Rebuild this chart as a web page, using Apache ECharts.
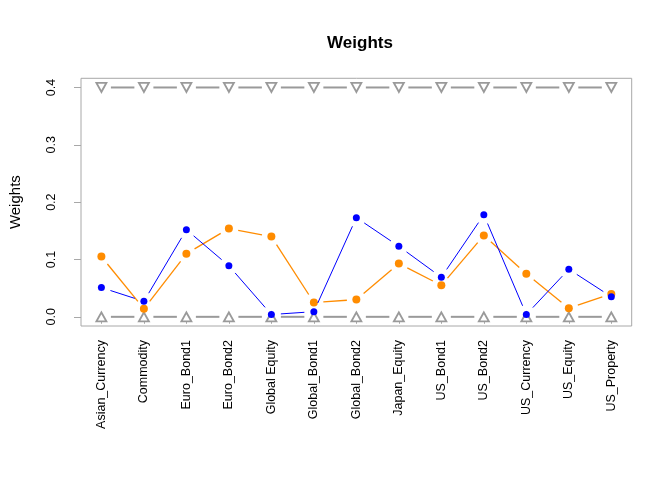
<!DOCTYPE html>
<html>
<head>
<meta charset="utf-8">
<script src="https://cdn.jsdelivr.net/npm/echarts@6/dist/echarts.min.js"></script>
<style>html,body{margin:0;padding:0;background:#fff;}#c{width:672px;height:480px;}</style>
</head>
<body>
<div id="c"></div>
<script>
var categories = ["Asian_Currency","Commodity","Euro_Bond1","Euro_Bond2","Global Equity","Global_Bond1","Global_Bond2","Japan_Equity","US_Bond1","US_Bond2","US_Currency","US_Equity","US_Property"];
var blueWeights = [0.051,0.027,0.152,0.089,0.004,0.009,0.173,0.123,0.069,0.178,0.004,0.083,0.035];
var orangeWeights = [0.105,0.014,0.110,0.154,0.140,0.025,0.030,0.093,0.055,0.142,0.075,0.015,0.040];
var upperBound = [0.4,0.4,0.4,0.4,0.4,0.4,0.4,0.4,0.4,0.4,0.4,0.4,0.4];
var lowerBound = [0,0,0,0,0,0,0,0,0,0,0,0,0];
var yTicks = [0, 0.1, 0.2, 0.3, 0.4];
var xTicks = categories.map(function(_, i){ return i + 1; });

var FONT = 'Liberation Sans';
var GAP = 9.5;

function pts(vals){ return vals.map(function(v, i){ return [i + 1, v]; }); }
function segs(vals){
  var out = [];
  for (var i = 0; i < vals.length - 1; i++) out.push([i + 1, vals[i], vals[i + 1]]);
  return out;
}
function gapLine(color, width){
  return function(params, api){
    var a = api.coord([api.value(0), api.value(1)]);
    var b = api.coord([api.value(0) + 1, api.value(2)]);
    var dx = b[0] - a[0], dy = b[1] - a[1];
    var L = Math.sqrt(dx * dx + dy * dy);
    if (L <= 2 * GAP) return null;
    var ux = dx / L, uy = dy / L;
    return {
      type: 'line',
      shape: {x1: a[0] + ux * GAP, y1: a[1] + uy * GAP, x2: b[0] - ux * GAP, y2: b[1] - uy * GAP},
      style: {stroke: color, lineWidth: width}
    };
  };
}
function lineSeries(vals, color, width, z){
  return {type: 'custom', data: segs(vals), renderItem: gapLine(color, width), z: z, silent: true,
          encode: {x: 0, y: [1, 2]}};
}
function pointSeries(vals, symbol, size, style, z, rot){
  return {type: 'scatter', data: pts(vals), symbol: symbol, symbolSize: size, symbolRotate: rot || 0,
          itemStyle: Object.assign({opacity: 1}, style), z: z, silent: true};
}

var grey = '#9a9a9a';
var chart = echarts.init(document.getElementById('c'));
chart.setOption({
  animation: false,
  backgroundColor: '#fff',
  title: {
    text: 'Weights', left: 355, top: 30, textAlign: 'center',
    textStyle: {fontFamily: FONT, fontSize: 17, fontWeight: 'bold', color: '#000'}
  },
  grid: {left: 78.3, right: 40.3, top: 78.3, bottom: 154, show: true, borderColor: '#a8a8a8', borderWidth: 1, backgroundColor: 'transparent'},
  xAxis: {
    type: 'value', min: 0.52, max: 13.48,
    axisLine: {show: false},
    splitLine: {show: false},
    axisTick: {show: true, customValues: xTicks, length: 7, lineStyle: {color: '#a8a8a8'}},
    axisLabel: {
      customValues: xTicks, rotate: 90, margin: 14,
      fontFamily: FONT, fontSize: 12.5, color: '#000',
      formatter: function(v){ return categories[Math.round(v) - 1] || ''; }
    }
  },
  yAxis: {
    type: 'value', min: -0.016, max: 0.416,
    name: 'Weights', nameLocation: 'middle', nameGap: 58, nameRotate: 90,
    nameTextStyle: {fontFamily: FONT, fontSize: 15, color: '#000'},
    axisLine: {show: false},
    splitLine: {show: false},
    axisTick: {show: true, customValues: yTicks, length: 7, lineStyle: {color: '#a8a8a8'}},
    axisLabel: {
      customValues: yTicks, rotate: 90, margin: 23,
      fontFamily: FONT, fontSize: 12.5, color: '#000',
      formatter: function(v){ return v.toFixed(1); }
    }
  },
  series: [
    lineSeries(upperBound, grey, 2, 1),
    pointSeries(upperBound, 'triangle', [10, 9], {color: '#fff', borderColor: grey, borderWidth: 1.8}, 2, 180),
    lineSeries(lowerBound, grey, 2, 1),
    pointSeries(lowerBound, 'triangle', [10, 9], {color: '#fff', borderColor: grey, borderWidth: 1.8}, 2),
    lineSeries(orangeWeights, '#ff8c00', 1.3, 3),
    pointSeries(orangeWeights, 'circle', 8, {color: '#ff8c00'}, 4),
    lineSeries(blueWeights, '#0000ff', 1, 5),
    pointSeries(blueWeights, 'circle', 7, {color: '#0000ff'}, 6)
  ]
});
</script>
</body>
</html>
